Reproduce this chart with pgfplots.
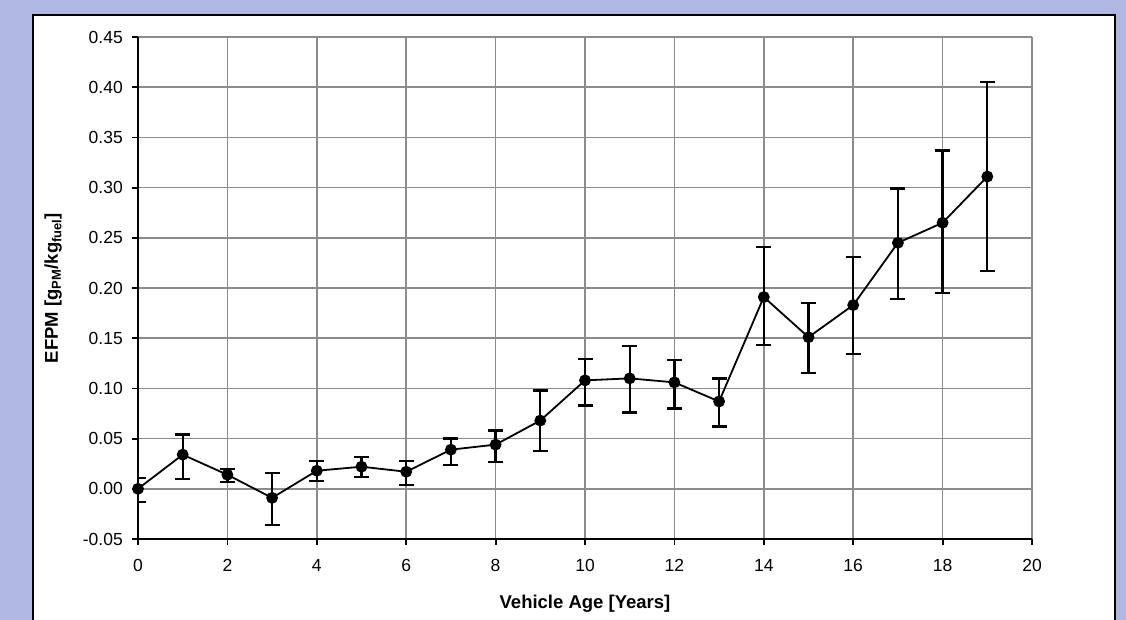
\documentclass[border=0pt]{standalone}
\usepackage{pgfplots}
\pgfplotsset{compat=1.18}
\usepackage{pgfplotstable}
\usepackage{fontspec}
\setmainfont{Liberation Sans}
\definecolor{bgl}{RGB}{177,183,227}
\definecolor{gridg}{RGB}{140,140,140}
\pgfplotstableread{
x y ep em
0 0.000 0.011 0.013
1 0.034 0.020 0.024
2 0.014 0.006 0.007
3 -0.009 0.025 0.027
4 0.018 0.010 0.010
5 0.022 0.010 0.010
6 0.017 0.011 0.013
7 0.039 0.011 0.015
8 0.044 0.014 0.017
9 0.068 0.030 0.030
10 0.108 0.021 0.025
11 0.110 0.032 0.034
12 0.106 0.022 0.026
13 0.087 0.023 0.025
14 0.191 0.050 0.048
15 0.151 0.034 0.036
16 0.183 0.048 0.049
17 0.245 0.054 0.056
18 0.265 0.072 0.070
19 0.311 0.094 0.094
}\data
\begin{document}
\begin{tikzpicture}
\useasboundingbox (0,0) rectangle (1126bp,-620bp);
\clip (0,0) rectangle (1126bp,-620bp);
\fill[bgl] (0,0) rectangle (1126bp,-620bp);
\draw[line width=2.2bp, fill=white] (33bp,-15bp) rectangle (1115bp,-640bp);
\begin{axis}[
  at={(138bp,-539bp)}, anchor=south west,
  scale only axis, width=894bp, height=502bp,
  xmin=0, xmax=20, ymin=-0.05, ymax=0.45,
  xtick={0,2,4,6,8,10,12,14,16,18,20},
  ytick={-0.05,0,0.05,0.10,0.15,0.20,0.25,0.30,0.35,0.40,0.45},
  axis x line*=bottom, axis y line*=left,
  axis line style={line width=2.2bp, black, -},
  grid=major, major grid style={gridg, line width=1.5bp},
  tick align=outside, major tick length=6bp,
  tick style={black, line width=1.8bp},
  /pgf/number format/assume math mode=true,
  tick label style={font=\fontsize{17.5bp}{21bp}\selectfont, inner sep=0pt},
  yticklabel style={/pgf/number format/.cd, fixed, fixed zerofill, precision=2, /tikz/.cd, xshift=-9bp},
  xticklabel style={yshift=-14bp},
  scaled y ticks=false,
  xlabel={Vehicle Age [Years]},
  xlabel style={at={(axis description cs:0.5,-0.139)}, anchor=base, font=\fontsize{18.5bp}{22bp}\selectfont\bfseries},
  ylabel={EFPM [g\textsubscript{PM}/kg\textsubscript{fuel}]},
  ylabel style={at={(axis description cs:-0.0895,0.5)}, anchor=base, rotate=0, font=\fontsize{18.5bp}{22bp}\selectfont\bfseries},
]
\addplot[black, line width=1.8bp, mark=*, mark size=5bp, mark options={fill=black, solid},
  error bars/.cd, y dir=both, y explicit,
  error bar style={line width=2.3bp, black},
  error mark options={rotate=90, mark size=7.5bp, line width=2.3bp, black}]
  table[x=x, y=y, y error plus=ep, y error minus=em]{\data};
\end{axis}
\end{tikzpicture}
\end{document}
